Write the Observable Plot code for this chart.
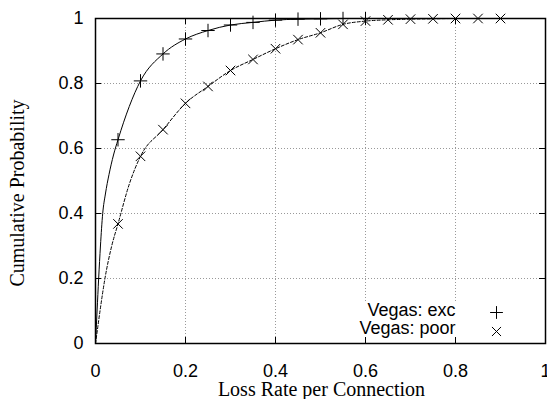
<!DOCTYPE html>
<html>
<head>
<meta charset="utf-8">
<script src="https://cdn.jsdelivr.net/npm/d3@7"></script>
<script src="https://cdn.jsdelivr.net/npm/@observablehq/plot@0.6"></script>
<style>
  html, body { margin: 0; padding: 0; background: #fff; }
  svg { display: block; }
</style>
</head>
<body>
<div id="chart"></div>
<script>
// Tick values
const xTicks = [0, 0.2, 0.4, 0.6, 0.8, 1];
const yTicks = [0, 0.2, 0.4, 0.6, 0.8, 1];
const gridTicks = [0.2, 0.4, 0.6, 0.8];

// Marker samples
const excMarkX = [0.05, 0.1, 0.15, 0.2, 0.25, 0.3, 0.35, 0.4, 0.45, 0.5, 0.55, 0.6];
const excMarkY = [0.627, 0.808, 0.891, 0.937, 0.963, 0.98, 0.988, 0.995, 0.998, 0.999, 1, 1];
const poorMarkX = [0.05, 0.1, 0.15, 0.2, 0.25, 0.3, 0.35, 0.4, 0.45, 0.5, 0.55, 0.6, 0.65, 0.7, 0.75, 0.8, 0.85, 0.9];
const poorMarkY = [0.368, 0.576, 0.658, 0.739, 0.791, 0.84, 0.874, 0.907, 0.935, 0.956, 0.982, 0.992, 0.996, 0.998, 0.999, 1, 1, 1];

// Continuous CDF curves
const excLineX = [0, 0.0035, 0.007, 0.011, 0.016, 0.022, 0.03, 0.04, 0.05, 0.1, 0.15, 0.2, 0.25, 0.3, 0.35, 0.4, 0.45, 0.5, 0.55, 0.6];
const excLineY = [0, 0.1, 0.2, 0.3, 0.4, 0.46, 0.52, 0.58, 0.627, 0.808, 0.891, 0.937, 0.963, 0.98, 0.988, 0.995, 0.998, 0.999, 1, 1];
const poorLineX = [0, 0.005, 0.01, 0.021, 0.036, 0.05, 0.075, 0.1, 0.15, 0.2, 0.25, 0.3, 0.35, 0.4, 0.45, 0.5, 0.55, 0.6, 0.65, 0.7, 0.75, 0.8, 0.85, 0.9];
const poorLineY = [0, 0.05, 0.1, 0.2, 0.3, 0.368, 0.49, 0.576, 0.658, 0.739, 0.791, 0.84, 0.874, 0.907, 0.935, 0.956, 0.982, 0.992, 0.996, 0.998, 0.999, 1, 1, 1];

const seriesNames = ["Vegas: exc", "Vegas: poor"];
const xLabel = "Loss Rate per Connection";
const yLabel = "Cumulative Probability";

const excLine = excLineX.map((x, i) => ({x, y: excLineY[i]}));
const poorLine = poorLineX.map((x, i) => ({x, y: poorLineY[i]}));
const excMarks = excMarkX.map((x, i) => ({x, y: excMarkY[i]}));
const poorMarks = poorMarkX.map((x, i) => ({x, y: poorMarkY[i]}));

const sans = "'Liberation Sans', Arial, Helvetica, sans-serif";
const serif = "'Liberation Serif', 'Times New Roman', serif";

const chart = Plot.plot({
  width: 547,
  height: 399,
  marginLeft: 95,
  marginRight: 2,
  marginTop: 18,
  marginBottom: 56,
  style: {fontFamily: sans, fontSize: "18px", color: "#000", background: "#fff", overflow: "hidden"},
  x: {domain: [0, 1], ticks: xTicks, tickFormat: d => String(d), tickSize: 0, tickPadding: 21, label: null},
  y: {domain: [0, 1], ticks: yTicks, tickFormat: d => String(d), tickSize: 0, tickPadding: 12, label: null},
  marks: [
    // grid
    Plot.ruleX(gridTicks, {stroke: "#999", strokeWidth: 1, strokeDasharray: "1,2"}),
    Plot.ruleY(gridTicks, {stroke: "#999", strokeWidth: 1, strokeDasharray: "1,2"}),
    // opaque key box
    Plot.frame({fill: "white", stroke: null, insetLeft: 255, insetTop: 284}),
    // inward ticks (all four sides)
    Plot.ruleX(xTicks, {stroke: "#000", insetTop: 319}),
    Plot.ruleX(xTicks, {stroke: "#000", insetBottom: 319}),
    Plot.ruleY(yTicks, {stroke: "#000", insetRight: 444}),
    Plot.ruleY(yTicks, {stroke: "#000", insetLeft: 444}),
    // curves
    Plot.line(excLine, {x: "x", y: "y", stroke: "#000", strokeWidth: 1, curve: "monotone-x"}),
    Plot.line(poorLine, {x: "x", y: "y", stroke: "#000", strokeWidth: 1, strokeDasharray: "3,2", curve: "monotone-x"}),
    Plot.dot(excMarks, {x: "x", y: "y", symbol: "plus", r: 4.4, stroke: "#000", strokeWidth: 1, fill: "none"}),
    Plot.dot(poorMarks, {x: "x", y: "y", symbol: "times", r: 4.4, stroke: "#000", strokeWidth: 1, fill: "none"}),
    // border
    Plot.frame({stroke: "#000", strokeWidth: 1.5}),
    // key
    Plot.text([seriesNames[0]], {frameAnchor: "bottom-right", text: d => d, textAnchor: "end", lineAnchor: "middle", dx: -90, dy: -33, fontSize: 18, fill: "#000"}),
    Plot.text([seriesNames[1]], {frameAnchor: "bottom-right", text: d => d, textAnchor: "end", lineAnchor: "middle", dx: -90, dy: -15, fontSize: 18, fill: "#000"}),
    Plot.dot([seriesNames[0]], {frameAnchor: "bottom-right", symbol: "plus", r: 4.2, stroke: "#000", strokeWidth: 1, dx: -49, dy: -31}),
    Plot.dot([seriesNames[1]], {frameAnchor: "bottom-right", symbol: "times", r: 4.2, stroke: "#000", strokeWidth: 1, dx: -49, dy: -12}),
    // axis titles
    Plot.text([xLabel], {frameAnchor: "bottom", text: d => d, textAnchor: "middle", lineAnchor: "middle", dy: 46, dx: 1, fontSize: 20, fontFamily: serif, fill: "#000"}),
    Plot.text([yLabel], {frameAnchor: "left", text: d => d, textAnchor: "middle", lineAnchor: "middle", rotate: -90, dx: -78, dy: 12, fontSize: 20, fontFamily: serif, fill: "#000"})
  ]
});
document.getElementById("chart").appendChild(chart);
</script>
</body>
</html>
